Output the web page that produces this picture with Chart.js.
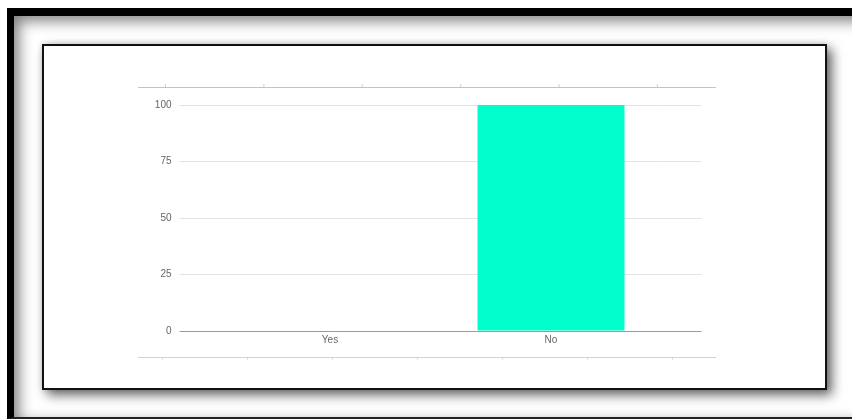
<!DOCTYPE html>
<html>
<head>
<meta charset="utf-8">
<script src="https://cdn.jsdelivr.net/npm/chart.js@4/dist/chart.umd.min.js"></script>
<style>
  html, body { margin: 0; padding: 0; background: #fff; width: 852px; height: 419px; overflow: hidden; }
  .outer {
    position: absolute; left: 7px; top: 8px; width: 900px; height: 411px;
    box-sizing: border-box;
    border-top: 8px solid #000; border-left: 7px solid #000; border-bottom: 2px solid #222;
    box-shadow: inset 5px 5px 14px rgba(0,0,0,0.5);
    background: #fff;
  }
  .inner {
    position: absolute; left: 42px; top: 44px; width: 785px; height: 346px;
    box-sizing: border-box; border: 2px solid #111; background: #fff;
    box-shadow: 5px 5px 11px rgba(0,0,0,0.6), 0 0 6px rgba(0,0,0,0.15);
  }
  .inner canvas { position: absolute; left: 0; top: 0; }
  .deco { position: absolute; left: 138px; width: 578px; height: 0; z-index: 5; }
  .deco.top { top: 87px; border-top: 1px solid #c4c4c4; }
  .deco.bot { top: 357px; border-top: 1px solid #d2d2d2; }
  .ticks { position: absolute; left: 138px; width: 578px; height: 3px; background-repeat: repeat-x; z-index: 5; }
  .ticks.top { top: 84px; background-image: linear-gradient(to right, #d0d0d0 1px, transparent 1px); background-size: 98.4px 3px; background-position: 27px 0; }
  .ticks.bot { top: 358px; background-image: linear-gradient(to right, #e0e0e0 1px, transparent 1px); background-size: 85px 2px; background-position: 24px 0; height: 2px; }
</style>
</head>
<body>
<div class="outer"></div>
<div class="inner"><canvas id="c" width="781" height="342"></canvas></div>
<div class="deco top"></div><div class="ticks top"></div>
<div class="deco bot"></div><div class="ticks bot"></div>
<script>
const categories = ['Yes', 'No'];
const values = [0, 100];
const yTickValues = [0, 25, 50, 75, 100];

const yMin = yTickValues[0];
const yMax = yTickValues[yTickValues.length - 1];
const yStep = yTickValues[1] - yTickValues[0];

const gridColor = (ctx) => (ctx.tick && ctx.tick.value === 0) ? '#9a9a9a' : '#e3e3e3';

new Chart(document.getElementById('c'), {
  type: 'bar',
  data: {
    labels: categories,
    datasets: [{
      data: values,
      backgroundColor: '#00ffcc',
      borderWidth: 0,
      categoryPercentage: 1.0,
      barPercentage: 0.665
    }]
  },
  options: {
    responsive: false,
    animation: false,
    layout: { padding: { left: 95.5, right: 123.5, top: 59, bottom: 39 } },
    plugins: { legend: { display: false }, tooltip: { enabled: false } },
    scales: {
      x: {
        grid: { display: false, drawTicks: false },
        border: { display: true, color: '#9a9a9a', width: 1 },
        ticks: { color: '#666', font: { family: 'Liberation Sans, Arial, sans-serif', size: 10 }, padding: 3 }
      },
      y: {
        position: 'left',
        min: yMin, max: yMax,
        grid: { color: gridColor, tickColor: gridColor, tickLength: 40, drawTicks: true },
        border: { display: false },
        ticks: { stepSize: yStep, padding: 8, color: '#666', font: { family: 'Liberation Sans, Arial, sans-serif', size: 10 } },
        afterFit: (s) => { s.width = 80; }
      },
      y2: {
        position: 'right',
        min: yMin, max: yMax,
        grid: { drawOnChartArea: false, color: gridColor, tickColor: gridColor, tickLength: 40, drawTicks: true },
        border: { display: false },
        ticks: { stepSize: yStep, display: false },
        afterFit: (s) => { s.width = 40; }
      }
    }
  }
});
</script>
</body>
</html>
